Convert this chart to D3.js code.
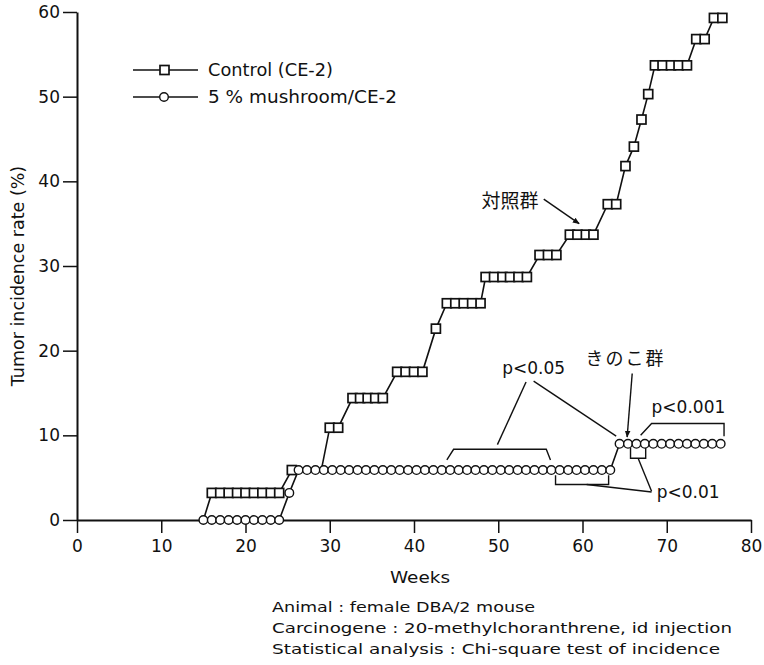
<!DOCTYPE html>
<html>
<head>
<meta charset="utf-8">
<script src="https://cdn.jsdelivr.net/npm/d3@7"></script>
<style>
  body { margin: 0; background: #fff; }
  svg text { font-family: "DejaVu Sans", "Liberation Sans", sans-serif; fill: #111; }
  .jp { font-family: "Noto Sans CJK JP", sans-serif; }
</style>
</head>
<body>
<div id="chart"></div>
<script>
// values (weeks, tumor incidence %)
const controlWeeks = [15, 16, 17, 18, 19, 20, 21, 22, 23, 24, 25.5, 26, 27, 28, 29, 30, 31,
  32.7, 33.6, 34.5, 35.4, 36.3, 38, 39, 40, 41, 42.6, 43.9, 44.9, 45.9, 46.9, 47.9,
  48.5, 49.5, 50.5, 51.4, 52.4, 53.4, 54.9, 55.9, 56.9, 58.5, 59.4, 60.4, 61.3, 63, 64,
  65.1, 66.1, 67, 67.8, 68.6, 69.5, 70.5, 71.4, 72.4, 73.5, 74.5, 75.6, 76.6];
const controlRate = [0, 3.2, 3.2, 3.2, 3.2, 3.2, 3.2, 3.2, 3.2, 3.2, 5.9, 5.9, 5.9, 5.9, 5.9, 10.9, 10.9,
  14.4, 14.4, 14.4, 14.4, 14.4, 17.5, 17.5, 17.5, 17.5, 22.6, 25.6, 25.6, 25.6, 25.6, 25.6,
  28.7, 28.7, 28.7, 28.7, 28.7, 28.7, 31.3, 31.3, 31.3, 33.7, 33.7, 33.7, 33.7, 37.3, 37.3,
  41.8, 44.1, 47.3, 50.3, 53.7, 53.7, 53.7, 53.7, 53.7, 56.8, 56.8, 59.3, 59.3];

const mushroomWeeks = [15, 16, 17, 18, 19, 20, 21, 22, 23, 24, 25.2,
  26.3, 27.3, 28.3, 29.3, 30.3, 31.3, 32.3, 33.3, 34.3, 35.3, 36.3, 37.3, 38.3, 39.3,
  40.3, 41.3, 42.3, 43.3, 44.3, 45.3, 46.3, 47.3, 48.3, 49.3, 50.3, 51.3, 52.3, 53.3,
  54.3, 55.3, 56.3, 57.3, 58.3, 59.3, 60.3, 61.3, 62.3, 63.3,
  64.4, 65.4, 66.4, 67.4, 68.4, 69.4, 70.4, 71.4, 72.4, 73.4, 74.4, 75.4, 76.4];
const mushroomRate = [0, 0, 0, 0, 0, 0, 0, 0, 0, 0, 3.2,
  5.9, 5.9, 5.9, 5.9, 5.9, 5.9, 5.9, 5.9, 5.9, 5.9, 5.9, 5.9, 5.9, 5.9,
  5.9, 5.9, 5.9, 5.9, 5.9, 5.9, 5.9, 5.9, 5.9, 5.9, 5.9, 5.9, 5.9, 5.9,
  5.9, 5.9, 5.9, 5.9, 5.9, 5.9, 5.9, 5.9, 5.9, 5.9,
  9.0, 9.0, 9.0, 9.0, 9.0, 9.0, 9.0, 9.0, 9.0, 9.0, 9.0, 9.0, 9.0];

const xTicks = [0, 10, 20, 30, 40, 50, 60, 70, 80];
const yTicks = [0, 10, 20, 30, 40, 50, 60];
const seriesNames = ["Control (CE-2)", "5 % mushroom/CE-2"];
const notes = [
  "Animal : female DBA/2 mouse",
  "Carcinogene : 20-methylchoranthrene, id injection",
  "Statistical analysis : Chi-square test of incidence"
];

const width = 764, height = 665;
const margin = { top: 12, right: 13, bottom: 145, left: 77 };

const svg = d3.select("#chart").append("svg")
  .attr("width", width)
  .attr("height", height);

const defs = svg.append("defs");
defs.append("marker")
  .attr("id", "arrow")
  .attr("viewBox", "0 0 10 10")
  .attr("refX", 9).attr("refY", 5)
  .attr("markerWidth", 7).attr("markerHeight", 7)
  .attr("markerUnits", "userSpaceOnUse")
  .attr("orient", "auto")
  .append("path")
  .attr("d", "M0,1 L10,5 L0,9 Z")
  .attr("fill", "#111");

const x = d3.scaleLinear().domain([0, 80]).range([margin.left, width - margin.right]);
const y = d3.scaleLinear().domain([0, 60]).range([height - margin.bottom, margin.top]);

// axes
const xAxis = svg.append("g")
  .attr("transform", "translate(0," + y(0) + ")")
  .call(d3.axisBottom(x).tickValues(xTicks).tickSize(13).tickSizeOuter(0).tickPadding(7));
const yAxis = svg.append("g")
  .attr("transform", "translate(" + x(0) + ",0)")
  .call(d3.axisLeft(y).tickValues(yTicks).tickSize(14).tickSizeOuter(0).tickPadding(3));

[xAxis, yAxis].forEach(g => {
  g.select(".domain").attr("stroke", "#111").attr("stroke-width", 2);
  g.selectAll(".tick line").attr("stroke", "#111").attr("stroke-width", 1.5);
  g.selectAll(".tick text").attr("font-size", 17).attr("fill", "#111")
    .attr("font-family", "DejaVu Sans, sans-serif");
});

svg.append("text")
  .attr("x", 420).attr("y", 583)
  .attr("text-anchor", "middle")
  .attr("font-size", 16)
  .attr("textLength", 60).attr("lengthAdjust", "spacingAndGlyphs")
  .text("Weeks");

svg.append("text")
  .attr("transform", "translate(24,276) rotate(-90)")
  .attr("text-anchor", "middle")
  .attr("font-size", 17.5)
  .text("Tumor incidence rate (%)");

// the scanned notes are stretched sideways a little
const noteWidths = [263, 460, 448];
svg.selectAll(".note").data(notes).enter().append("text")
  .attr("class", "note")
  .attr("x", 272)
  .attr("y", (d, i) => 612 + i * 21)
  .attr("font-size", 14.5)
  .attr("textLength", (d, i) => noteWidths[i])
  .attr("lengthAdjust", "spacingAndGlyphs")
  .text(d => d);

// series
const control = controlWeeks.map((w, i) => ({ w: w, v: controlRate[i] }));
const mushroom = mushroomWeeks.map((w, i) => ({ w: w, v: mushroomRate[i] }));

// squares that sit under a circle are covered in the original
const covered = d => mushroom.some(m => m.v === d.v && Math.abs(m.w - d.w) < 0.6);

let line = d3.line().x(d => x(d.w)).y(d => y(d.v));

svg.append("path")
  .datum(control)
  .attr("fill", "none")
  .attr("stroke", "#111")
  .attr("stroke-width", 1.6)
  .attr("d", line);

svg.selectAll(".sq").data(control.filter(d => !covered(d))).enter().append("rect")
  .attr("class", "sq")
  .attr("x", d => x(d.w) - 4.5)
  .attr("y", d => y(d.v) - 4.5)
  .attr("width", 9).attr("height", 9)
  .attr("fill", "#fff")
  .attr("stroke", "#111")
  .attr("stroke-width", 1.7);

svg.append("path")
  .datum(mushroom)
  .attr("fill", "none")
  .attr("stroke", "#111")
  .attr("stroke-width", 1.6)
  .attr("d", line);

svg.selectAll(".ci").data(mushroom).enter().append("circle")
  .attr("class", "ci")
  .attr("cx", d => x(d.w))
  .attr("cy", d => y(d.v))
  .attr("r", 4.3)
  .attr("fill", "#fff")
  .attr("stroke", "#111")
  .attr("stroke-width", 1.4);

// legend
const legendWidths = [125, 189];
const legend = svg.append("g");
seriesNames.forEach((name, i) => {
  let ly = 70 + i * 27;
  legend.append("line")
    .attr("x1", 133).attr("x2", 198).attr("y1", ly).attr("y2", ly)
    .attr("stroke", "#111").attr("stroke-width", 1.6);
  if (i === 0) {
    legend.append("rect")
      .attr("x", 160).attr("y", ly - 4.5).attr("width", 9).attr("height", 9)
      .attr("fill", "#fff").attr("stroke", "#111").attr("stroke-width", 1.7);
  } else {
    legend.append("circle")
      .attr("cx", 164).attr("cy", ly).attr("r", 4.3)
      .attr("fill", "#fff").attr("stroke", "#111").attr("stroke-width", 1.4);
  }
  legend.append("text")
    .attr("x", 208).attr("y", ly + 6)
    .attr("font-size", 17)
    .attr("textLength", legendWidths[i]).attr("lengthAdjust", "spacingAndGlyphs")
    .text(name);
});

// annotations, placed in data units
const ann = svg.append("g")
  .attr("fill", "none")
  .attr("stroke", "#111")
  .attr("stroke-width", 1.4);

function seg(pts, arrow) {
  let p = ann.append("path")
    .attr("d", d3.line().x(d => x(d[0])).y(d => y(d[1]))(pts));
  if (arrow) p.attr("marker-end", "url(#arrow)");
  return p;
}

// 対照群 arrow
seg([[55.4, 37.9], [59.6, 35.0]], true);
// p<0.05 bracket and leaders
seg([[43.9, 7.1], [44.7, 8.35], [55.7, 8.35], [56.2, 7.1]]);
seg([[53.3, 16.3], [49.9, 8.9]]);
seg([[54.2, 16.4], [64.0, 9.9]]);
// きのこ群 arrow
seg([[65.9, 17.3], [65.3, 9.8]], true);
// p<0.001 bracket
seg([[66.9, 10.0], [68.2, 11.4], [76.8, 11.4], [76.8, 9.9]]);
// p<0.01 brackets and leaders
seg([[65.7, 8.5], [65.7, 7.3], [67.5, 7.3], [67.5, 8.5]]);
seg([[66.6, 7.3], [68.2, 3.4]]);
seg([[56.8, 5.3], [56.8, 4.2], [63.1, 4.2], [63.1, 5.3]]);
seg([[60.5, 4.2], [68.2, 3.3]]);

const labels = svg.append("g").attr("font-size", 17);
labels.append("text").attr("class", "jp")
  .attr("x", x(48.0)).attr("y", y(36.9)).attr("font-size", 19)
  .text("対照群");
labels.append("text").attr("class", "jp")
  .attr("x", x(65.1)).attr("y", y(18.3)).attr("font-size", 18)
  .attr("text-anchor", "middle").attr("letter-spacing", 2)
  .text("きのこ群");
labels.append("text")
  .attr("x", x(54.2)).attr("y", y(17.3)).attr("text-anchor", "middle")
  .text("p<0.05");
labels.append("text")
  .attr("x", x(68.2)).attr("y", y(12.6))
  .text("p<0.001");
labels.append("text")
  .attr("x", x(68.8)).attr("y", y(2.6))
  .text("p<0.01");
</script>
</body>
</html>
